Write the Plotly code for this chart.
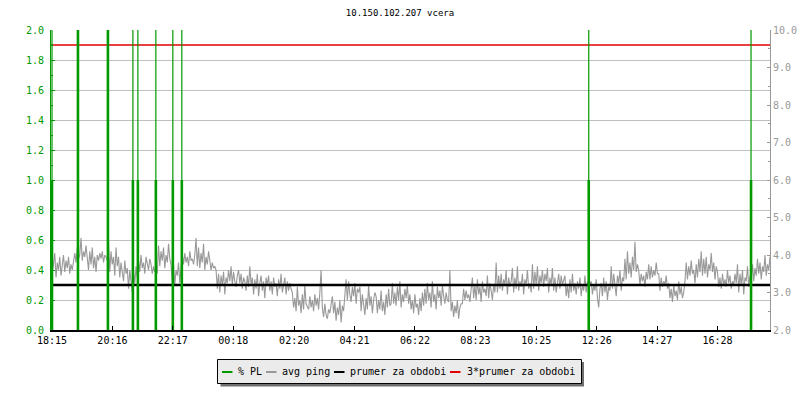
import plotly.graph_objects as go

# ---------------- data ----------------
start_time = "18:13"
x_labels = ["18:15", "20:16", "22:17", "00:18", "02:20", "04:21",
            "06:22", "08:23", "10:25", "12:26", "14:27", "16:28"]

# avg ping [ms], ~2.5 min per sample over 24 h (right axis)
ping_1 = [  # 18:13 - 00:13
    3.9, 3.55, 3.75, 4.05, 3.4, 3.8, 3.6, 3.95, 3.45, 3.7, 4.0,
    3.55, 3.85, 3.65, 3.95, 3.5, 3.75, 3.6, 3.85,
    4.05, 3.8, 4.2, 3.9, 4.0, 4.45, 3.85, 4.1, 3.95, 4.25, 3.8,
    3.6, 4.1, 3.75, 4.2, 3.65, 3.95, 3.55, 4.0,
    3.85, 4.05, 3.9, 4.1, 3.8, 4.0, 3.95, 3.85,
    4.35, 3.55, 4.1, 3.75, 3.95, 3.45, 4.2, 3.7,
    3.95, 3.4, 3.8, 3.55, 3.3, 3.85, 3.5, 3.65,
    3.1, 3.6, 3.35, 3.0, 3.55, 3.25, 3.7, 3.4,
    3.85, 3.55, 4.0, 3.65, 3.8, 3.5, 3.95, 3.7, 3.6, 3.9, 3.75,
    3.5, 3.7, 3.55, 3.65, 3.5,
    4.25, 3.7, 4.1, 3.85, 4.2, 3.65, 4.0, 3.8, 4.3, 3.9, 3.75,
    3.3, 3.75, 3.2, 3.6, 3.45, 3.8, 3.25, 3.55,
    4.0, 3.75, 4.05, 3.8, 3.95, 3.7, 4.1, 3.85, 3.9, 3.75, 4.0,
    4.45, 3.7, 4.2, 3.65, 4.05, 3.8, 4.3, 3.6, 3.95, 3.75, 4.1,
    3.75, 3.6, 3.8, 3.65, 3.7,
    3.6, 3.1, 3.5, 3.0, 3.45, 3.2, 3.55, 2.95, 3.4, 3.25, 3.6, 3.3,
]
ping_2 = [  # 00:13 - 06:13
    3.7, 3.2, 3.55, 3.3, 3.15, 3.45, 3.6, 3.25, 3.5, 3.1, 3.4,
    3.3, 3.05, 3.45, 3.15, 3.7, 3.2, 3.4, 2.95, 3.35, 3.1, 3.5, 2.9, 3.25, 3.45, 3.05,
    3.3, 2.85, 3.4, 3.2,
    3.45, 3.05, 3.3, 2.95, 3.4, 3.15, 3.25, 2.9, 3.35, 3.1, 3.5, 3.0, 3.2, 3.4, 2.95,
    3.3, 3.05, 3.25, 3.1,
    3.0, 2.6, 2.85, 2.5, 3.15, 2.65, 2.8, 2.45, 2.95, 2.55, 3.2, 2.7, 2.6,
    2.55, 2.9, 2.6, 2.8, 2.5, 2.95, 2.65, 2.85, 2.55, 3.0, 3.6,
    2.6, 2.35, 2.7, 2.4, 2.3, 2.55, 2.45, 2.75,
    2.9, 2.45, 2.75, 2.25, 2.6, 2.4, 2.8, 2.2, 2.65, 2.5, 2.95,
    3.35, 2.8, 3.3, 2.95, 2.75, 3.15, 2.9, 3.25, 2.7, 3.1, 3.0,
    3.15, 2.5, 2.95, 2.6, 2.4, 2.85, 2.55, 3.2, 2.65, 2.9, 2.45, 2.8, 3.0,
    2.9, 2.45, 2.8, 2.55, 3.05, 2.5, 2.75, 2.4, 2.95, 2.6, 3.1, 2.65, 2.7,
    3.25, 2.7, 3.0, 2.65, 3.15, 2.8, 3.3, 2.6, 2.95, 2.75, 3.1, 2.85, 3.2, 2.7, 2.95,
]
ping_3 = [  # 06:13 - 12:13
    2.55, 2.8, 2.45, 2.95, 2.6, 2.7, 2.4, 2.85, 2.5, 3.0, 2.65,
    3.1, 2.7, 3.25, 2.8, 3.0, 2.6, 3.3, 2.75, 2.95, 2.55, 3.15, 2.85, 3.05, 2.65, 3.2,
    2.9, 2.7, 3.0, 2.8,
    2.75, 3.6, 2.5, 2.75, 2.35, 2.65, 2.45, 2.8, 2.3, 2.6, 2.7,
    2.7, 3.1, 2.8, 3.05, 2.85, 2.95, 2.75, 3.1,
    3.4, 2.85, 3.2, 2.8, 3.35, 2.95, 3.15, 2.75, 3.3, 3.0, 3.1, 2.9, 3.45, 2.85, 3.25,
    3.05, 2.8, 3.2, 3.0,
    3.8, 3.0, 3.45, 3.1, 3.5, 3.05, 3.35, 3.2, 3.6, 2.95, 3.4, 3.15, 3.3,
    3.65, 3.0, 3.4, 3.1, 3.7, 3.05, 3.3, 3.15, 3.5, 2.95, 3.35, 3.2, 3.6, 3.1, 3.25, 3.0,
    3.75, 3.1, 3.55, 3.2, 3.7, 3.05, 3.45, 3.25, 3.6, 3.15, 3.5, 3.3, 3.65, 3.0, 3.4, 3.2,
    3.65, 3.05, 3.4, 3.0, 3.3, 3.5, 3.1, 3.45, 3.2, 3.35,
    3.45, 2.9, 3.2, 2.85, 3.35, 3.0, 3.5, 3.05, 3.25, 2.95, 3.3, 3.1, 3.4, 2.9, 3.2,
    3.05, 3.45, 3.0, 3.3, 3.15, 3.25,
]
ping_4 = [  # 12:13 - 18:13
    3.3, 2.95, 3.2, 3.05, 3.35, 2.85, 2.6, 3.1, 3.25, 2.9, 3.4, 3.0, 3.3, 2.8, 3.15, 3.05,
    3.7, 3.1, 3.5, 3.2, 2.9, 3.45, 3.25, 3.6, 3.05, 3.4, 3.3,
    3.9, 3.35, 4.1, 3.5, 3.8, 3.4, 3.95, 3.6, 4.35, 3.55, 3.75,
    3.6, 3.2, 3.5, 3.3, 3.45, 3.15, 3.55, 3.35,
    3.75, 3.35, 3.7, 3.4, 3.6, 3.45, 3.8, 3.5,
    3.5, 3.05, 3.4, 3.15, 3.3, 3.2, 3.45, 3.1,
    3.25, 2.85, 3.1, 2.75, 3.2, 2.9, 3.05, 2.8, 3.3, 2.95, 3.15, 2.85, 3.0,
    3.3, 3.8, 3.35, 3.7, 3.45, 3.85, 3.5, 3.6, 3.25, 3.75, 3.4, 3.9, 3.55,
    4.1, 3.45, 3.9, 3.5, 3.95, 3.4, 3.75, 3.6, 4.05, 3.55, 3.8, 3.35, 3.7,
    3.55, 3.15, 3.4, 3.1, 3.5, 3.2, 3.35, 3.15, 3.6, 3.25, 3.45, 3.1, 3.3, 3.2, 3.5, 3.25,
    3.75, 3.0, 3.5, 3.2, 3.6, 2.95, 3.4, 3.3, 3.7, 3.15, 3.45,
    3.4, 3.75, 3.3, 3.65, 3.45, 3.9, 3.5, 3.8, 3.35, 3.7, 3.55, 4.0, 3.45, 3.75, 3.6, 3.95,
]

mean_ping = 3.2                     # prumer za obdobi [ms]

# packet loss events: minutes after start, peak %PL, level of the wide part
pl_times = [2, 54, 114, 164, 174, 210, 244, 262, 1077, 1402]
pl_peaks = [5.0, 10.0, 10.0, 5.0, 5.0, 5.0, 5.0, 5.0, 5.0, 5.0]
pl_wide = [1.0, 10.0, 10.0, 1.0, 1.0, 1.0, 1.0, 1.0, 1.0, 1.0]

# ---------------- helpers ----------------
def hm(s):
    h, m = s.split(":")
    return int(h) * 60 + int(m)

avg_ping = ping_1 + ping_2 + ping_3 + ping_4
span = 1440
t0 = hm(start_time)
tick_vals = [(hm(s) - t0) % span for s in x_labels]
n = len(avg_ping)
ping_t = [i * span / (n - 1) for i in range(n)]

W, H = 800, 400
ML, MR, MT, MB = 51, 30, 30, 70
PW, PH = W - ML - MR, H - MT - MB


def fx(px):
    return (px - ML) / PW


def fy(py):
    return (H - MB - py) / PH


GREEN = "#009900"
GRAY = "#999999"
RED = "#e00000"
FONT = "DejaVu Sans Mono"

fig = go.Figure()

# avg ping (right scale, drawn on axis y)
fig.add_trace(go.Scatter(x=ping_t, y=avg_ping, mode="lines", name="avg ping",
                         line=dict(color=GRAY, width=1.1), yaxis="y",
                         showlegend=False))
fig.add_trace(go.Scatter(x=[0, span], y=[mean_ping, mean_ping], mode="lines",
                         name="prumer za obdobi", line=dict(color="black", width=2.5),
                         yaxis="y", showlegend=False))
fig.add_trace(go.Scatter(x=[0, span], y=[3 * mean_ping, 3 * mean_ping], mode="lines",
                         name="3*prumer za obdobi", line=dict(color=RED, width=1.5),
                         yaxis="y", showlegend=False))

# packet loss spikes (left scale, overlay axis y2 so they are on top)
xs, ys, xw, yw = [], [], [], []
for t, p, w in zip(pl_times, pl_peaks, pl_wide):
    xs += [t, t, None]
    ys += [0, p, None]
    xw += [t, t, None]
    yw += [0, w, None]
fig.add_trace(go.Scatter(x=xs, y=ys, mode="lines", name="% PL",
                         line=dict(color=GREEN, width=1.2), yaxis="y2",
                         showlegend=False, connectgaps=False))
fig.add_trace(go.Scatter(x=xw, y=yw, mode="lines", name="% PL",
                         line=dict(color=GREEN, width=2.6), yaxis="y2",
                         showlegend=False, connectgaps=False))

# ---------------- manual legend ----------------
shapes = [
    dict(type="rect", xref="paper", yref="paper", x0=fx(220.5), x1=fx(584), y0=fy(386.5),
         y1=fy(362), fillcolor="#707070", line=dict(width=0), layer="above"),
    dict(type="rect", xref="paper", yref="paper", x0=fx(217.5), x1=fx(581.5), y0=fy(383.5),
         y1=fy(359.5), fillcolor="#ebebeb", line=dict(color="black", width=1), layer="above"),
]
legend_items = [("% PL", GREEN, 222, 236), ("avg ping", GRAY, 266, 280),
                ("prumer za obdobi", "black", 334, 348), ("3*prumer za obdobi", RED, 450, 465)]
annotations = []
for label, col, sx, tx in legend_items:
    shapes.append(dict(type="line", xref="paper", yref="paper", x0=fx(sx), x1=fx(sx + 10.5),
                       y0=fy(372), y1=fy(372), line=dict(color=col, width=2), layer="above"))
    annotations.append(dict(text=label, xref="paper", yref="paper", x=fx(tx), y=fy(371.5),
                            xanchor="left", yanchor="middle", showarrow=False,
                            font=dict(family=FONT, size=10, color="black")))

fig.update_layout(
    width=W, height=H,
    margin=dict(l=ML, r=MR, t=MT, b=MB, autoexpand=False),
    paper_bgcolor="white", plot_bgcolor="white",
    title=dict(text="10.150.102.207 vcera", x=0.5, xref="container", xanchor="center",
               y=1 - 13 / H, yref="container", yanchor="middle",
               font=dict(family=FONT, size=9, color="black")),
    font=dict(family=FONT, size=10),
    showlegend=False,
    xaxis=dict(range=[0, span], tickvals=tick_vals, ticktext=x_labels, automargin=False,
               ticks="inside", ticklen=4, tickcolor="black", showgrid=False,
               showline=True, linecolor="black", linewidth=2, zeroline=False,
               tickfont=dict(family=FONT, size=10, color="black")),
    yaxis=dict(range=[2, 10], dtick=1, tickformat=".1f", side="right", automargin=False,
               ticks="inside", ticklen=3, tickcolor="#999999", showgrid=False,
               showline=True, linecolor="#999999", linewidth=1, zeroline=False,
               tickfont=dict(family=FONT, size=10, color="#999999"),
               minor=dict(dtick=0.5, ticks="inside", ticklen=2, tickcolor="#999999",
                          showgrid=False)),
    yaxis2=dict(range=[0, 2], dtick=0.2, tickformat=".1f", side="left", overlaying="y",
                automargin=False, ticklabelstandoff=4,
                ticks="inside", ticklen=4, tickcolor=GREEN, showgrid=True,
                gridcolor="#c0c0c0", gridwidth=1,
                showline=True, linecolor=GREEN, linewidth=1, zeroline=False,
                tickfont=dict(family=FONT, size=10, color=GREEN),
                minor=dict(dtick=0.1, ticks="inside", ticklen=2, tickcolor=GREEN,
                           showgrid=False)),
    shapes=shapes,
    annotations=annotations,
)

fig.write_html("out.html", config={"displayModeBar": False},
               post_script="document.body.style.margin='0';document.body.style.padding='0';")
